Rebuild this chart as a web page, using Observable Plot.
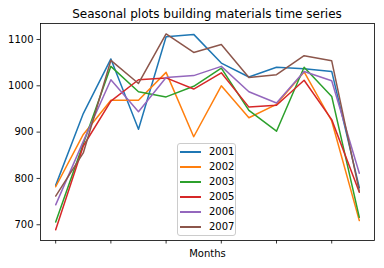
<!DOCTYPE html>
<html><head><meta charset="utf-8">
<script src="https://cdn.jsdelivr.net/npm/d3@7"></script>
<script src="https://cdn.jsdelivr.net/npm/@observablehq/plot@0.6"></script>
<style>
body{margin:0;background:#fff;font-family:"DejaVu Sans",sans-serif;}
#wrap{position:relative;width:384px;height:268px;overflow:hidden;}
#title{height:22px;box-sizing:border-box;padding-top:7.5px;padding-left:30px;font-size:12px;line-height:1;text-align:center;color:#000;}
#legend{position:absolute;left:177px;top:143px;width:59px;box-sizing:border-box;border:1px solid #ccc;border-radius:3px;background:rgba(255,255,255,0.8);padding:0 0 1px 0;}
.row{position:relative;height:15px;font-size:10px;line-height:15px;}
.row span.ln{position:absolute;left:2px;top:7px;width:21px;height:1.5px;}
.row span.tx{position:absolute;left:31px;top:0;color:#000;}
svg{display:block;}
</style>
</head><body>
<div id="wrap">
<div id="title"></div>
<div id="chart"></div>
<div id="legend"></div>
</div>
<script>
const title = "Seasonal plots building materials time series";
const xLabel = "Months";
const months = [0,1,2,3,4,5,6,7,8,9,10,11];
const xTicks = [0,2,4,6,8,10];
const yTicks = [700,800,900,1000,1100];
const years = ["2001","2002","2003","2005","2006","2007"];
const colors = ["#1f77b4","#ff7f0e","#2ca02c","#d62728","#9467bd","#8c564b"];
const s2001 = [785, 940, 1058, 906, 1106, 1111, 1049, 1019, 1040, 1037, 1031, 780];
const s2002 = [782, 895, 969, 969, 1029, 890, 1000, 931, 960, 1030, 924, 709];
const s2003 = [706, 875, 1042, 987, 976, 999, 1038, 947, 902, 1040, 977, 716];
const s2005 = [689, 870, 967, 1013, 1017, 993, 1028, 954, 958, 1012, 927, 770];
const s2006 = [743, 880, 1013, 944, 1018, 1022, 1042, 987, 963, 1031, 1011, 811];
const s2007 = [762, 855, 1055, 1005, 1112, 1072, 1089, 1018, 1024, 1065, 1054, 772];
const series = [s2001, s2002, s2003, s2005, s2006, s2007];

const data = [];
years.forEach((y, i) => months.forEach((m, j) => data.push({year: y, month: m, value: series[i][j]})));

document.getElementById("title").textContent = title;

const plot = Plot.plot({
  width: 384,
  height: 246,
  marginLeft: 40,
  marginRight: 10,
  marginTop: 1,
  marginBottom: 28,
  style: {fontFamily: "DejaVu Sans, sans-serif", fontSize: "10px", color: "#000", background: "#fff"},
  x: {domain: [-0.55, 11.55], label: null},
  y: {domain: [666, 1134.5], label: null},
  color: {domain: years, range: colors},
  marks: [
    Plot.line(data, {x: "month", y: "value", z: "year", stroke: "year", strokeWidth: 1.5}),
    Plot.frame({stroke: "#000", strokeWidth: 0.8}),
    Plot.axisX({ticks: xTicks, tickSize: 3.5, tickFormat: () => "", strokeWidth: 0.8, label: null}),
    Plot.axisY({ticks: yTicks, tickSize: 3.5, tickPadding: 3.5, tickFormat: d => String(d), strokeWidth: 0.8, label: null}),
    Plot.text([xLabel], {frameAnchor: "bottom", dy: 16, fontSize: 10, fill: "#000"})
  ]
});
document.getElementById("chart").appendChild(plot);

const leg = document.getElementById("legend");
years.forEach((y, i) => {
  const r = document.createElement("div");
  r.className = "row";
  r.innerHTML = `<span class="ln" style="background:${colors[i]}"></span><span class="tx">${y}</span>`;
  leg.appendChild(r);
});
</script>
</body></html>
